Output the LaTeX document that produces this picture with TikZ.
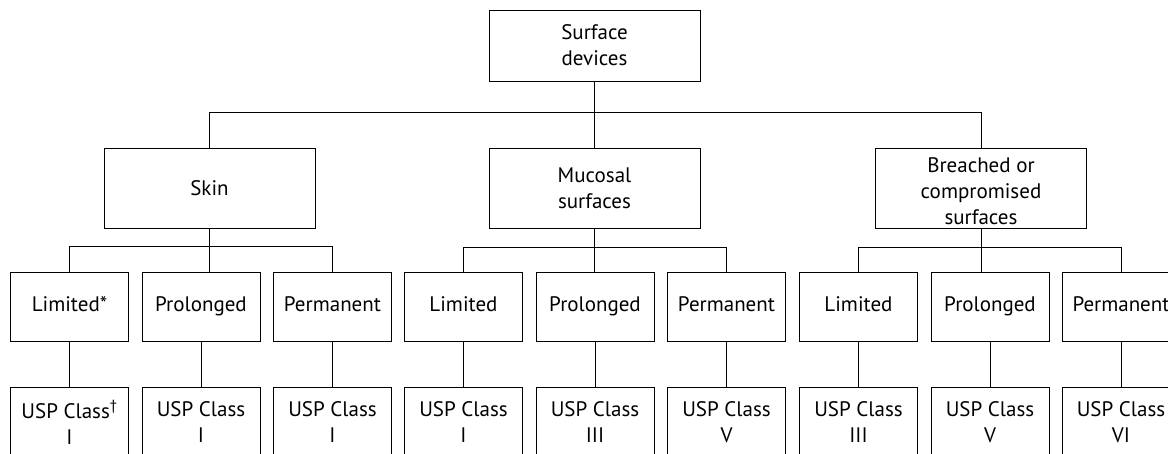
\documentclass[tikz,border=0pt]{standalone}
\usepackage{fontspec}
\setmainfont{PT Sans}
\newcommand{\dstrut}{\rule[-4.5pt]{0pt}{18pt}}
\begin{document}
\begin{tikzpicture}[x=1pt,y=-1pt,
  every node/.style={font=\fontsize{21}{26}\selectfont, align=center, inner sep=0pt},
  topbox/.style={draw, line width=0.8pt, minimum width=211pt, minimum height=71pt},
  midbox/.style={draw, line width=0.8pt, minimum width=211pt, minimum height=80pt},
  durbox/.style={draw, line width=0.8pt, minimum width=118pt, minimum height=69pt},
  uspbox/.style={draw, line width=0.8pt, minimum width=118pt, minimum height=71pt},
  conn/.style={line width=0.8pt}]
\clip (0,0) rectangle (1168,454);
\useasboundingbox (0,0) rectangle (1168,454);
\node[topbox] (top) at (594.5,45.5) {Surface\\devices};
\node[midbox] (skin) at (209.5,188.5) {Skin};
\node[midbox] (muc) at (594.5,188) {Mucosal\\surfaces};
\node[midbox] (brch) at (981,188) {};
\node (brchtext) at ([yshift=-3.5pt]brch.center) {Breached or\\compromised\\surfaces};
% level 3
\node[durbox] (sl) at (69.5,306.5) {\dstrut Limited*};
\node[durbox] (sp) at (201,306.5) {\dstrut Prolonged};
\node[durbox] (sm) at (332.5,306.5) {\dstrut Permanent};
\node[durbox] (ml) at (463.5,306.5) {\dstrut Limited};
\node[durbox] (mp) at (595,306.5) {\dstrut Prolonged};
\node[durbox] (mm) at (726.5,306.5) {\dstrut Permanent};
\node[durbox] (bl) at (858.5,306.5) {\dstrut Limited};
\node[durbox] (bp) at (990,306.5) {\dstrut Prolonged};
\node[durbox] (bm) at (1121,306.5) {\dstrut Permanent};
% level 4
\node[uspbox] (slu) at (69.5,422.5) {USP Class\textsuperscript{†}\\I};
\node[uspbox] (spu) at (201,422.5) {USP Class\\I};
\node[uspbox] (smu) at (332.5,422.5) {USP Class\\I};
\node[uspbox] (mlu) at (463.5,422.5) {USP Class\\I};
\node[uspbox] (mpu) at (595,422.5) {USP Class\\III};
\node[uspbox] (mmu) at (726.5,422.5) {USP Class\\V};
\node[uspbox] (blu) at (858.5,422.5) {USP Class\\III};
\node[uspbox] (bpu) at (990,422.5) {USP Class\\V};
\node[uspbox] (bmu) at (1121,422.5) {USP Class\\VI};
% connectors
\draw[conn] (top.south) -- (muc.north);
\draw[conn] (skin.north) -- ++(0,-36) -| (brch.north);
\draw[conn] (skin.south) -- (skin.south |- sp.north);
\draw[conn] (sl.north) -- ++(0,-25) -| (sm.north);
\draw[conn] (muc.south) -- (muc.south |- mp.north);
\draw[conn] (ml.north) -- ++(0,-24) -| (mm.north);
\draw[conn] (brch.south) -- (brch.south |- bp.north);
\draw[conn] (bl.north) -- ++(0,-24) -| (bm.north);
\foreach \a/\b in {sl/slu,sp/spu,sm/smu,ml/mlu,mp/mpu,mm/mmu,bl/blu,bp/bpu,bm/bmu}
  \draw[conn] (\a.south) -- (\b.north);
\end{tikzpicture}
\end{document}
